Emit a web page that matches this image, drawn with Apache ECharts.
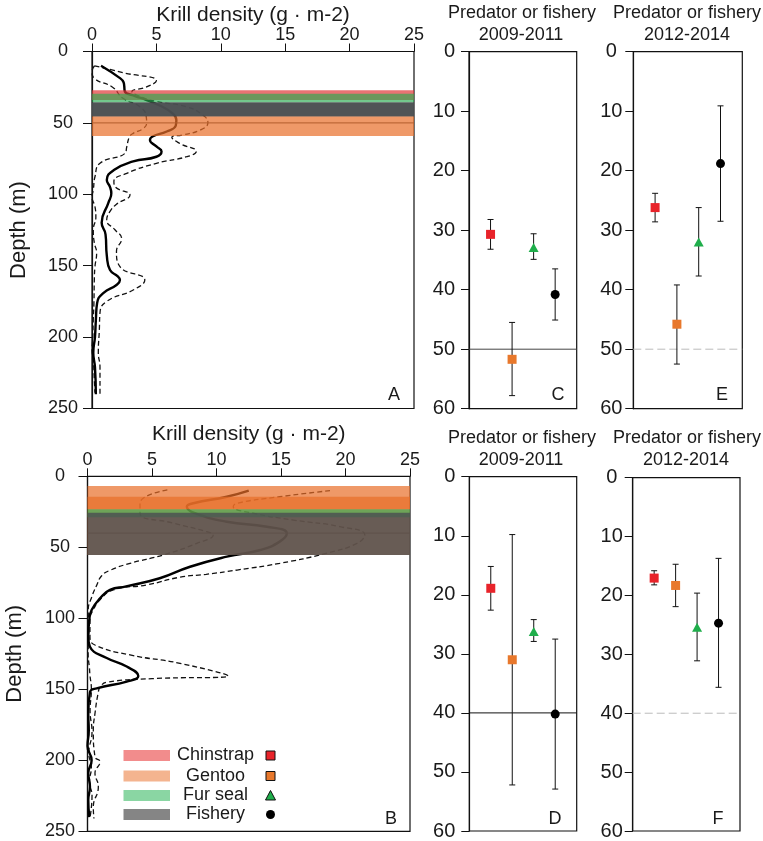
<!DOCTYPE html>
<html><head><meta charset="utf-8">
<script src="https://cdn.jsdelivr.net/npm/echarts@6/dist/echarts.min.js"></script>
<style>html,body{margin:0;padding:0;background:#fff}#c{width:763px;height:841px}</style>
</head><body><div id="c"></div>
<script>
// ---------- DATA ----------
const densityTicks = [0, 5, 10, 15, 20, 25];
const depthTicksProfile = [0, 50, 100, 150, 200, 250];
const depthTicksPoint = [0, 10, 20, 30, 40, 50, 60];
const speciesNames = ['Chinstrap', 'Gentoo', 'Fur seal', 'Fishery'];

// Panel A: krill density profiles [density, depth]
const meanA = [[0.7,10],[2.2,18.8],[2.45,21.5],[2.5,24],[2.55,28],[3.3,31],[4.24,34],[5.3,38],[6.2,43],[6.55,48],[6.5,52],[5.8,56],[4.7,59.5],[4.5,62],[5.0,66.5],[5.4,70],[5.0,73.7],[3.2,77],[1.7,83],[1.15,90],[1.4,95],[1.5,99.3],[1.27,106],[0.75,120],[1.05,128],[1.15,143],[1.4,153],[2.0,157.5],[2.17,160],[1.9,163.5],[0.9,169],[0.4,176],[0.3,188],[0.23,200],[0.1,211],[0.23,221],[0.3,240]];
const upperA = [[0.2,10],[2.5,15],[5.0,20.5],[4.2,25],[3.1,28],[3.6,31],[5.0,35],[7.3,38.6],[8.6,44.5],[9.0,49.8],[8.4,55],[7.0,58.5],[6.2,60],[6.8,64.3],[8.1,70],[7.35,73.7],[5.0,78.3],[2.7,85.3],[1.7,91],[1.8,94.7],[2.95,100.5],[1.9,107],[1.4,112],[1.14,118],[1.8,125],[2.3,131],[1.9,140],[2.17,150.7],[4.1,160],[3.2,167],[1.14,175],[0.62,183],[0.57,195],[0.49,211],[0.62,221],[0.62,240]];
const lowerA = [[0.2,10],[0.0,14],[0.18,18.8],[1.6,25],[2.4,32.8],[3.7,38.6],[4.2,45],[4.24,50],[4.0,53.8],[3.2,57.3],[2.9,60],[2.7,66.7],[2.56,71.3],[0.62,78.3],[0.23,87.7],[0.1,97],[0.0,101.7],[0.23,108.7],[0.3,116],[0.1,125],[0.18,134],[0.36,141],[0.23,150.7],[0.18,160],[0.15,176],[0.1,188],[0.05,202],[0.0,209],[0.1,216],[0.18,230],[0.23,239]];

// Panel B
const meanB = [[12.5,10.1],[10.8,14.4],[8.2,19],[7.7,21.4],[8.33,26],[10.8,32],[13.9,35.5],[15.45,40.1],[14.9,46],[13.4,51.9],[10.8,56.6],[7.95,63.7],[5.6,71.8],[3.0,77.5],[1.74,80],[0.97,86],[0.33,94],[0.14,101],[0.06,113],[0.19,120],[1.49,128],[3.04,134],[3.94,140.6],[3.04,144.6],[0.71,149.3],[0.19,152],[0.06,167],[0.1,179],[0.0,190],[0.32,200],[0.06,209],[0.19,218.6],[0.06,228],[0.14,240]];
const upperB = [[18.8,10.1],[14.9,14.4],[11.57,19],[11.3,21.4],[12.85,26],[15.95,30.8],[19.57,35.5],[21.5,41.3],[20.9,47.2],[18.5,54.2],[14.9,61.3],[11.6,66],[9.2,69],[7.2,71],[4.6,76.5],[2.0,80],[0.97,87],[0.45,94],[0.19,101],[0.19,113],[0.58,118.8],[3.3,125.8],[7.17,131.7],[10.9,140.6],[5.0,142.5],[1.5,145],[1.0,148],[0.84,152],[0.58,167],[0.45,179],[0.58,197.6],[0.97,201],[0.58,209],[0.84,218.6],[0.45,233],[0.5,241]];
const lowerB = [[6.19,9.6],[4.07,19],[4.07,26],[6.65,33],[9.24,39],[9.75,41.3],[8.47,47.2],[5.88,55.4],[3.3,61.3],[1.8,66],[1.1,70],[0.7,77],[0.33,85],[0.06,94],[0.1,110],[0.05,125],[0.15,135],[0.19,140],[0.3,150],[0.2,165],[0.35,180],[0.1,195],[0.3,205],[0.15,215],[0.35,225],[0.2,240]];

// Depth bands [fromDepth, toDepth, speciesIndex]
const bandsA = [[27.2,34,0],[29.5,35.8,2],[35.8,45.6,3],[35.8,45.6,3],[45.6,59.2,1]];
const bandsB = [[6.8,55.5,1],[14.4,23.2,1],[23.2,28.9,2],[25.6,55.4,3]];
const refDepthA = 50;
const refDepthB = 40;

// Panels C-F: predator / fishery depth (mean, low, high)
const xPos = [1, 2, 3, 4];
const meanC = [30.7, 51.7, 32.9, 40.8], loC = [28.2, 45.5, 30.6, 36.5], hiC = [33.2, 57.8, 34.9, 45.1];
const meanE = [26.2, 45.8, 32.0, 18.8], loE = [23.8, 39.2, 26.2, 9.1], hiE = [28.6, 52.5, 37.7, 28.5];
const meanD = [18.9, 31.0, 26.2, 40.2], loD = [15.2, 9.8, 24.2, 27.5], hiD = [22.6, 52.2, 27.9, 52.9];
const meanF = [17.05, 18.3, 25.4, 24.7], loF = [15.8, 14.7, 19.6, 13.7], hiF = [18.2, 21.9, 31.1, 35.6];

// ---------- STYLE ----------
const FONT = 'Liberation Sans, Arial, Helvetica, sans-serif';
const TXT = '#1a1a1a';
const speciesColors = ['#e8232a', '#e8782c', '#1fae4b', '#000000'];
const speciesSymbols = ['rect', 'rect', 'triangle', 'circle'];
const speciesSizes = [9, 9, [10, 9], 9];
const bandFill = ['rgba(225,55,55,0.7)', 'rgba(232,110,40,0.7)', 'rgba(40,170,80,0.65)', 'rgba(75,78,80,0.82)'];
const swatchFill = ['#f28c8c', '#f4b48f', '#8ad6a3', '#858585'];

const chart = echarts.init(document.getElementById('c'), null, {renderer: 'canvas', width: 763, height: 841});

const grids = [
  {left: 92, top: 51.5, width: 322, height: 357},
  {left: 87.5, top: 476.3, width: 322.5, height: 355},
  {left: 469, top: 51.7, width: 107.7, height: 357},
  {left: 633.3, top: 51.7, width: 109, height: 357},
  {left: 469.3, top: 476.7, width: 107.4, height: 356.6},
  {left: 632.7, top: 477.7, width: 107.3, height: 357.3}
].map(g => Object.assign({show: true, borderColor: '#111', borderWidth: 1.2, backgroundColor: 'transparent', containLabel: false}, g));

const densityAxis = (gi, gap) => ({
  gridIndex: gi, type: 'value', position: 'top',
  min: densityTicks[0], max: densityTicks[densityTicks.length - 1], interval: densityTicks[1] - densityTicks[0],
  name: 'Krill density (g · m-2)', nameLocation: 'middle', nameGap: gap,
  nameTextStyle: {fontFamily: FONT, fontSize: 21, color: TXT},
  axisLine: {show: true, lineStyle: {color: '#111', width: 1.2}},
  axisTick: {show: true, length: 8, lineStyle: {color: '#111'}},
  axisLabel: {fontFamily: FONT, fontSize: 18, color: TXT, margin: 7},
  splitLine: {show: false}
});
const hiddenX = gi => ({gridIndex: gi, type: 'value', min: 0, max: 5, show: false});

const depthProfileAxis = (gi, margin) => ({
  gridIndex: gi, type: 'value', inverse: true,
  min: depthTicksProfile[0], max: depthTicksProfile[depthTicksProfile.length - 1], interval: depthTicksProfile[1] - depthTicksProfile[0],
  name: 'Depth (m)', nameLocation: 'middle', nameGap: 62,
  nameTextStyle: {fontFamily: FONT, fontSize: 22, color: TXT},
  axisLine: {show: true, lineStyle: {color: '#111', width: 1.2}},
  axisTick: {show: true, length: 9, lineStyle: {color: '#111'}},
  axisLabel: {fontFamily: FONT, fontSize: 18, color: TXT, margin: margin, align: 'center'},
  splitLine: {show: false}
});
const depthPointAxis = (gi, margin, align) => ({
  gridIndex: gi, type: 'value', inverse: true,
  min: depthTicksPoint[0], max: depthTicksPoint[depthTicksPoint.length - 1], interval: depthTicksPoint[1] - depthTicksPoint[0],
  axisLine: {show: true, lineStyle: {color: '#111', width: 1.2}},
  axisTick: {show: true, length: 8, lineStyle: {color: '#111'}},
  axisLabel: {fontFamily: FONT, fontSize: 20, color: TXT, margin: margin, align: align},
  splitLine: {show: false}
});

const series = [];
function profileSeries(gi, mean, upper, lower, bands, refDepth) {
  const common = {type: 'line', xAxisIndex: gi, yAxisIndex: gi, showSymbol: false, smooth: 0.5, z: 2, silent: true, animation: false};
  series.push(Object.assign({}, common, {data: lower, lineStyle: {color: '#111', width: 1.3, type: [5, 3]}}));
  series.push(Object.assign({}, common, {data: upper, lineStyle: {color: '#111', width: 1.3, type: [5, 3]}}));
  series.push(Object.assign({}, common, {data: mean, lineStyle: {color: '#000', width: 2.4}}));
  series.push({type: 'line', xAxisIndex: gi, yAxisIndex: gi, showSymbol: false, z: 2, silent: true, animation: false,
    data: [[densityTicks[0], refDepth], [densityTicks[densityTicks.length - 1], refDepth]],
    lineStyle: {color: '#333', width: 1}});
  series.push({type: 'custom', xAxisIndex: gi, yAxisIndex: gi, z: 4, silent: true, animation: false,
    data: bands,
    renderItem: (params, api) => {
      const a = api.coord([densityTicks[0], api.value(0)]);
      const b = api.coord([densityTicks[densityTicks.length - 1], api.value(1)]);
      return {type: 'rect', shape: {x: a[0], y: a[1], width: b[0] - a[0], height: b[1] - a[1]},
        style: {fill: bandFill[api.value(2)]}};
    }});
}
function pointSeries(gi, mean, lo, hi, refDepth, refStyle) {
  series.push({type: 'line', xAxisIndex: gi, yAxisIndex: gi, showSymbol: false, z: 1, silent: true, animation: false,
    data: [[0, refDepth], [5, refDepth]], lineStyle: refStyle});
  series.push({type: 'custom', xAxisIndex: gi, yAxisIndex: gi, z: 3, silent: true, animation: false,
    data: xPos.map((x, i) => [x, lo[i], hi[i]]),
    renderItem: (params, api) => {
      const x = api.value(0);
      const p1 = api.coord([x, api.value(1)]), p2 = api.coord([x, api.value(2)]);
      const w = 3, st = {stroke: '#111', lineWidth: 1};
      return {type: 'group', children: [
        {type: 'line', shape: {x1: p1[0], y1: p1[1], x2: p2[0], y2: p2[1]}, style: st},
        {type: 'line', shape: {x1: p1[0] - w, y1: p1[1], x2: p1[0] + w, y2: p1[1]}, style: st},
        {type: 'line', shape: {x1: p2[0] - w, y1: p2[1], x2: p2[0] + w, y2: p2[1]}, style: st}
      ]};
    }});
  series.push({type: 'scatter', xAxisIndex: gi, yAxisIndex: gi, z: 5, silent: true, animation: false,
    data: xPos.map((x, i) => ({value: [x, mean[i]], symbol: speciesSymbols[i], symbolSize: speciesSizes[i],
      itemStyle: {color: speciesColors[i], opacity: 1}}))});
}

profileSeries(0, meanA, upperA, lowerA, bandsA, refDepthA);
profileSeries(1, meanB, upperB, lowerB, bandsB, refDepthB);
pointSeries(2, meanC, loC, hiC, 50, {color: '#444', width: 1});
pointSeries(3, meanE, loE, hiE, 50, {color: '#bbb', width: 1, type: [8, 4]});
pointSeries(4, meanD, loD, hiD, 40, {color: '#111', width: 1});
pointSeries(5, meanF, loF, hiF, 40, {color: '#bbb', width: 1, type: [8, 4]});

const txt = (x, y, text, size, align) => ({type: 'text', x: x, y: y, silent: true,
  style: {text: text, fontFamily: FONT, fontSize: size, fill: TXT, align: align || 'center', verticalAlign: 'middle'}});

const graphics = [
  txt(522, 13, 'Predator or fishery', 18), txt(521, 35, '2009-2011', 18),
  txt(687, 13, 'Predator or fishery', 18), txt(687, 35, '2012-2014', 18),
  txt(522, 438, 'Predator or fishery', 18), txt(521, 460, '2009-2011', 18),
  txt(687, 438, 'Predator or fishery', 18), txt(686, 460, '2012-2014', 18),
  txt(394, 395, 'A', 18), txt(391, 819, 'B', 18),
  txt(558, 395, 'C', 18), txt(722, 395, 'E', 18),
  txt(555, 819, 'D', 18), txt(718, 819, 'F', 18)
];
const legendY = [755.5, 776, 795.5, 814.5];
speciesNames.forEach((name, i) => {
  const y = legendY[i];
  graphics.push({type: 'rect', silent: true, shape: {x: 123.5, y: y - 5.5, width: 46.5, height: 11}, style: {fill: swatchFill[i]}});
  graphics.push(txt(215.5, y, name, 18));
  const c = speciesColors[i];
  if (speciesSymbols[i] === 'rect') {
    graphics.push({type: 'rect', silent: true, shape: {x: 266, y: y - 4.5, width: 9, height: 9}, style: {fill: c, stroke: '#111', lineWidth: 1}});
  } else if (speciesSymbols[i] === 'triangle') {
    graphics.push({type: 'polygon', silent: true, shape: {points: [[270.5, y - 5], [275.5, y + 4.5], [265.5, y + 4.5]]}, style: {fill: c, stroke: '#111', lineWidth: 1}});
  } else {
    graphics.push({type: 'circle', silent: true, shape: {cx: 270.5, cy: y, r: 4.5}, style: {fill: c}});
  }
});

chart.setOption({
  animation: false,
  backgroundColor: '#fff',
  grid: grids,
  xAxis: [densityAxis(0, 23), densityAxis(1, 32), hiddenX(2), hiddenX(3), hiddenX(4), hiddenX(5)],
  yAxis: [depthProfileAxis(0, 29), depthProfileAxis(1, 27.5),
    depthPointAxis(2, 14, 'right'), depthPointAxis(3, 22, 'center'),
    depthPointAxis(4, 14, 'right'), depthPointAxis(5, 21, 'center')],
  series: series,
  graphic: graphics
});
</script>
</body></html>
